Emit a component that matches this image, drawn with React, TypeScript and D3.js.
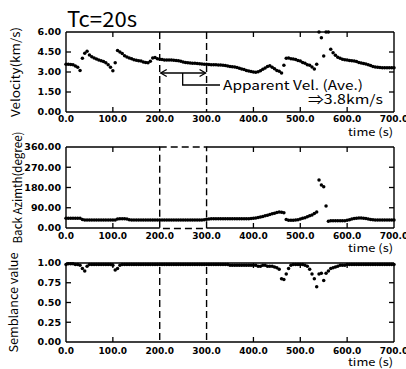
import React from "react";
import * as d3 from "d3";

// sample grid: one value every 5 s from 0 to 700 s
const TIME_STEP = 5;
const xTicks = [0, 100, 200, 300, 400, 500, 600, 700];

const velocity = [
  3.58, 3.58, 3.57, 3.55, 3.45, 3.35, 3.12, 4.03, 4.4, 4.55,
  4.27, 4.15, 4.05, 3.97, 3.9, 3.85, 3.78, 3.7, 3.55, 3.35,
  3.1, 3.7, 4.62, 4.5, 4.38, 4.22, 4.12, 4.05, 4.0, 3.92,
  3.88, 3.85, 3.82, 3.75, 3.72, 3.7, 3.8, 4.05, 4.08, 4.0,
  3.95, 3.93, 3.9, 3.9, 3.9, 3.9, 3.88, 3.86, 3.85, 3.8,
  3.75, 3.72, 3.7, 3.68, 3.66, 3.65, 3.63, 3.62, 3.6, 3.58,
  3.58, 3.57, 3.55, 3.55, 3.54, 3.53, 3.52, 3.5, 3.48, 3.45,
  3.42, 3.4, 3.38, 3.33, 3.28, 3.22, 3.18, 3.12, 3.08, 3.03,
  3.0, 2.98, 3.02, 3.1, 3.2, 3.3, 3.42, 3.47, 3.35, 3.25,
  3.12, 3.05, 2.92, 3.5, 4.03, 4.05, 4.0, 3.98, 3.93, 3.87,
  3.82, 3.72, 3.65, 3.55, 3.5, 3.38, 3.23, 3.58, 6.0, 5.57,
  4.2, 6.0, 6.0, 4.7, 4.45, 4.25, 4.1, 4.03, 3.95, 3.92,
  3.9, 3.87, 3.85, 3.82, 3.78, 3.72, 3.68, 3.64, 3.6, 3.55,
  3.48, 3.42, 3.38, 3.35, 3.33, 3.32, 3.32, 3.32, 3.32, 3.32,
  3.32,
];

const backAzimuth = [
  43, 43, 43, 43, 43, 43, 43, 38, 36, 36,
  36, 36, 36, 36, 36, 36, 36, 36, 36, 36,
  36, 36, 40, 41, 41, 41, 40, 37, 36, 36,
  36, 36, 36, 36, 36, 36, 36, 36, 36, 36,
  36, 36, 36, 36, 36, 36, 36, 36, 36, 36,
  36, 36, 36, 36, 36, 36, 36, 36, 36, 37,
  39, 40, 41, 41, 41, 41, 41, 41, 41, 41,
  41, 41, 41, 41, 41, 41, 41, 41, 41, 42,
  43, 45, 47, 49, 51, 54, 57, 60, 63, 66,
  69, 71, 70, 68, 38, 35, 35, 35, 36, 37,
  40, 43, 46, 50, 54, 58, 64, 71, 213, 191,
  183, 98, 30, 32, 32, 32, 32, 32, 32, 32,
  34, 37, 40, 42, 43, 44, 44, 43, 42, 40,
  38, 37, 36, 36, 36, 36, 36, 36, 36, 36,
  36,
];

const semblance = [
  0.98, 0.99, 0.99, 0.99, 0.98, 0.98, 0.97, 0.93, 0.9, 0.96,
  0.98, 0.98, 0.98, 0.98, 0.98, 0.98, 0.98, 0.98, 0.98, 0.98,
  0.97, 0.91, 0.93, 0.97, 0.98, 0.98, 0.98, 0.98, 0.98, 0.98,
  0.98, 0.98, 0.98, 0.98, 0.98, 0.98, 0.98, 0.98, 0.98, 0.98,
  0.98, 0.98, 0.98, 0.98, 0.98, 0.98, 0.98, 0.98, 0.98, 0.98,
  0.98, 0.98, 0.98, 0.98, 0.98, 0.98, 0.98, 0.98, 0.98, 0.98,
  0.98, 0.98, 0.98, 0.98, 0.98, 0.98, 0.98, 0.98, 0.98, 0.98,
  0.97, 0.97, 0.97, 0.97, 0.97, 0.97, 0.97, 0.97, 0.97, 0.97,
  0.97, 0.97, 0.96, 0.96, 0.97, 0.97, 0.96, 0.96, 0.96, 0.95,
  0.94, 0.92, 0.8, 0.79, 0.86, 0.93, 0.97, 0.98, 0.98, 0.98,
  0.98, 0.98, 0.97, 0.96, 0.92, 0.86, 0.8, 0.7, 0.86, 0.87,
  0.78, 0.87, 0.9, 0.93, 0.94, 0.95, 0.96, 0.97, 0.97, 0.97,
  0.98, 0.98, 0.98, 0.98, 0.98, 0.98, 0.98, 0.98, 0.98, 0.98,
  0.98, 0.98, 0.98, 0.98, 0.98, 0.98, 0.98, 0.98, 0.98, 0.98,
  0.98,
];

const velTicks = [0, 1.5, 3.0, 4.5, 6.0];
const azTicks = [0, 90, 180, 270, 360];
const semTicks = [0, 0.25, 0.5, 0.75, 1.0];

const W = 406;
const H = 369;
const LEFT = 66;
const RIGHT = 394;
const TICK_FONT = "'DejaVu Sans', sans-serif";
const LABEL_FONT = "'Noto Sans CJK JP', 'Noto Sans', sans-serif";

const x = d3.scaleLinear().domain([0, 700]).range([LEFT, RIGHT]);

type PanelProps = {
  top: number;
  bottom: number;
  values: number[];
  domain: [number, number];
  ticks: number[];
  fmt: (v: number) => string;
  ylabel: string;
  ylabelX: number;
  ylabelLen: number;
  xLabelDy: number;
  dashed: "lines" | "rect" | "linesLow";
};

function Panel(p: PanelProps) {
  const y = d3.scaleLinear().domain(p.domain).range([p.bottom, p.top]);
  const tl = 5;
  const x200 = x(200);
  const x300 = x(300);
  const rectMode = p.dashed === "rect";
  const cy = (p.top + p.bottom) / 2;
  return (
    <g>
      {/* frame */}
      <line x1={LEFT} x2={LEFT} y1={p.top} y2={p.bottom} stroke="#000" strokeWidth={1.4} />
      <line x1={RIGHT} x2={RIGHT} y1={p.top} y2={p.bottom} stroke="#000" strokeWidth={1.4} />
      {rectMode ? (
        <g>
          <line x1={LEFT} x2={x200} y1={p.top} y2={p.top} stroke="#000" strokeWidth={1.4} />
          <line x1={x300} x2={RIGHT} y1={p.top} y2={p.top} stroke="#000" strokeWidth={1.4} />
          <line x1={LEFT} x2={x200} y1={p.bottom} y2={p.bottom} stroke="#000" strokeWidth={1.4} />
          <line x1={x300} x2={RIGHT} y1={p.bottom} y2={p.bottom} stroke="#000" strokeWidth={1.4} />
          <rect x={x200} y={p.top} width={x300 - x200} height={p.bottom - p.top + 0.5} fill="none" stroke="#000" strokeWidth={1.4} strokeDasharray="7,4" />
        </g>
      ) : (
        <g>
          <line x1={LEFT} x2={RIGHT} y1={p.top} y2={p.top} stroke="#000" strokeWidth={1.4} />
          <line x1={LEFT} x2={RIGHT} y1={p.bottom} y2={p.bottom} stroke="#000" strokeWidth={1.4} />
          {[x200, x300].map((xx, i) => (
            <line key={i} x1={xx} x2={xx} y1={p.dashed === "linesLow" ? p.top + 4 : p.top} y2={p.bottom} stroke="#000" strokeWidth={1.4} strokeDasharray="7,4" />
          ))}
        </g>
      )}
      {/* x ticks (inward, top and bottom) */}
      {xTicks.map((t) => (
        <g key={t}>
          {t > 0 && t < 700 && t !== 200 && t !== 300 && (
            <g>
              <line x1={x(t)} x2={x(t)} y1={p.top} y2={p.top + tl} stroke="#000" strokeWidth={1.3} />
              <line x1={x(t)} x2={x(t)} y1={p.bottom} y2={p.bottom - tl} stroke="#000" strokeWidth={1.3} />
            </g>
          )}
          <text x={x(t)} y={p.bottom + p.xLabelDy} textAnchor="middle" fontFamily={TICK_FONT} fontWeight="bold" fontSize={9} fill="#000">
            {t.toFixed(1)}
          </text>
        </g>
      ))}
      <text x={393} y={p.bottom + 24} textAnchor="end" fontFamily={LABEL_FONT} fontSize={11} fill="#000" textLength={45} lengthAdjust="spacingAndGlyphs">
        time (s)
      </text>
      {/* y ticks */}
      {p.ticks.map((v) => (
        <g key={v}>
          {v !== p.domain[0] && v !== p.domain[1] && (
            <g>
              <line x1={LEFT} x2={LEFT + tl} y1={y(v)} y2={y(v)} stroke="#000" strokeWidth={1.3} />
              <line x1={RIGHT} x2={RIGHT - tl} y1={y(v)} y2={y(v)} stroke="#000" strokeWidth={1.3} />
            </g>
          )}
          <text x={61} y={y(v)} dy="0.35em" textAnchor="end" fontFamily={TICK_FONT} fontWeight="bold" fontSize={9.5} fill="#000">
            {p.fmt(v)}
          </text>
        </g>
      ))}
      <text
        transform={`translate(${p.ylabelX},${cy}) rotate(-90)`}
        textAnchor="middle"
        dy="0.35em"
        fontFamily={LABEL_FONT}
        fontSize={12}
        fill="#000"
        textLength={p.ylabelLen}
        lengthAdjust="spacingAndGlyphs"
      >
        {p.ylabel}
      </text>
      {/* data points */}
      {p.values.map((v, i) => (
        <circle key={i} cx={x(i * TIME_STEP)} cy={y(Math.min(v, p.domain[1]))} r={1.75} fill="#000" />
      ))}
    </g>
  );
}

export default function App() {
  const ax = x(200) + 1;
  const bx = x(300) - 1;
  const ay = 73;
  const mx = x(249);
  return (
    <svg width={W} height={H} viewBox={`0 0 ${W} ${H}`} style={{ position: "absolute", left: 0, top: 0, background: "#fff" }}>
      <rect width={W} height={H} fill="#fff" />
      <text x={67} y={27} fontFamily={LABEL_FONT} fontSize={21} fill="#000" textLength={70} lengthAdjust="spacingAndGlyphs">
        Tc=20s
      </text>
      <Panel
        top={32}
        bottom={112}
        values={velocity}
        domain={[0, 6]}
        ticks={velTicks}
        fmt={(v) => v.toFixed(2)}
        ylabel="Velocity(km/s)"
        ylabelX={16}
        ylabelLen={90}
        xLabelDy={10}
        dashed="lines"
      />
      {/* apparent velocity annotation */}
      <line x1={ax} x2={bx} y1={ay} y2={ay} stroke="#000" strokeWidth={1.3} />
      <path d={`M${ax + 6},${ay - 3.5} L${ax},${ay} L${ax + 6},${ay + 3.5}`} fill="none" stroke="#000" strokeWidth={1.3} />
      <path d={`M${bx - 6},${ay - 3.5} L${bx},${ay} L${bx - 6},${ay + 3.5}`} fill="none" stroke="#000" strokeWidth={1.3} />
      <path d={`M${mx},${ay} L${mx},85 L220,85`} fill="none" stroke="#000" strokeWidth={1.3} />
      <text x={223} y={90} fontFamily={LABEL_FONT} fontSize={13} fill="#000" textLength={140} lengthAdjust="spacingAndGlyphs">
        Apparent Vel. (Ave.)
      </text>
      <text x={308} y={104} fontFamily={LABEL_FONT} fontSize={13} fill="#000" textLength={75} lengthAdjust="spacingAndGlyphs">
        ⇒3.8km/s
      </text>
      <Panel
        top={147}
        bottom={228}
        values={backAzimuth}
        domain={[0, 360]}
        ticks={azTicks}
        fmt={(v) => v.toFixed(2)}
        ylabel="Back Azimth(degree)"
        ylabelX={18}
        ylabelLen={112}
        xLabelDy={10.5}
        dashed="rect"
      />
      <Panel
        top={263}
        bottom={342}
        values={semblance}
        domain={[0, 1]}
        ticks={semTicks}
        fmt={(v) => v.toFixed(2)}
        ylabel="Semblance value"
        ylabelX={14}
        ylabelLen={100}
        xLabelDy={12}
        dashed="linesLow"
      />
    </svg>
  );
}
